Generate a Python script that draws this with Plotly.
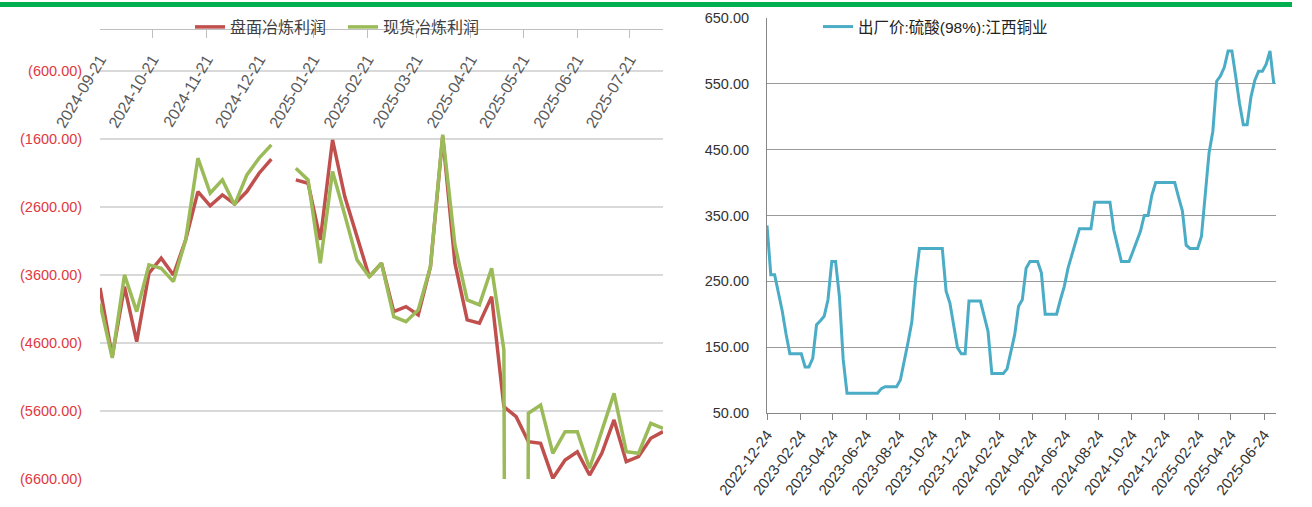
import plotly.graph_objects as go
import pandas as pd

W, H = 1312, 507

# ---------------- Left chart data (weekly) ----------------
left_start = "2024-09-21"
pan_profit = [-3791, -4800, -3772, -4581, -3575, -3354, -3600, -3085, -2375, -2585,
              -2424, -2556, -2375, -2105, -1899, None, -2203, -2252, -3085, -1615,
              -2448, -3036, -3627, -3428, -4140, -4066, -4188, -3478, -1566, -3428,
              -4262, -4311, -3919, -5537, -5684, -6052, -6076, -6590, -6321, -6199,
              -6542, -6223, -5732, -6346, -6272, -6002, -5904]
spot_profit = [-4019, -4820, -3600, -4140, -3453, -3502, -3698, -3085, -1884, -2399,
               -2203, -2571, -2130, -1884, -1688, None, -2031, -2203, -3428, -2081,
               -2718, -3379, -3627, -3428, -4213, -4287, -4115, -3478, -1540, -3159,
               -3968, -4041, -3502, -4703, -60000, -5634, -5512, -6223, -5904, -5904,
               -6443, -5880, -5341, -6199, -6223, -5781, -5855]
left_dates = pd.date_range(left_start, periods=len(pan_profit), freq="7D")
left_ytickvals = [-6600, -5600, -4600, -3600, -2600, -1600, -600]
left_yticktext = ["(6600.00)", "(5600.00)", "(4600.00)", "(3600.00)",
                  "(2600.00)", "(1600.00)", "(600.00)"]
left_names = ["盘面冶炼利润", "现货冶炼利润"]

# ---------------- Right chart data (weekly) ----------------
acid_start = "2022-12-24"
acid_price = [335, 260, 260, 235, 205, 170, 140, 140, 140, 140,
              120, 120, 133, 184, 190, 197, 222, 280, 280, 227,
              131, 80, 80, 80, 80, 80, 80, 80, 80, 80,
              87, 90, 90, 90, 90, 100, 127, 157, 188, 252,
              300, 300, 300, 300, 300, 300, 300, 235, 217, 183,
              149, 140, 140, 220, 220, 220, 220, 197, 174, 110,
              110, 110, 110, 117, 143, 169, 212, 222, 270, 280,
              280, 280, 263, 200, 200, 200, 200, 222, 242, 270,
              290, 310, 330, 330, 330, 330, 370, 370, 370, 370,
              370, 328, 304, 280, 280, 280, 295, 311, 326, 350,
              350, 381, 400, 400, 400, 400, 400, 400, 378, 357,
              305, 300, 300, 300, 318, 380, 445, 478, 554, 562,
              575, 600, 600, 561, 520, 488, 488, 530, 555, 569,
              569, 580, 600, 550]
acid_dates = pd.date_range(acid_start, periods=len(acid_price), freq="7D")
acid_name = "出厂价:硫酸(98%):江西铜业"


def fx(p):
    return p / W


def fy(p):
    return 1 - p / H


FONT = "Liberation Sans, Noto Sans CJK SC, sans-serif"

fig = go.Figure()

fig.add_trace(go.Scatter(x=left_dates, y=pan_profit, name=left_names[0], mode="lines",
                         line=dict(color="#C0504D", width=3.5), connectgaps=False,
                         xaxis="x", yaxis="y", legend="legend"))
fig.add_trace(go.Scatter(x=left_dates, y=spot_profit, name=left_names[1], mode="lines",
                         line=dict(color="#9BBB59", width=3.5), connectgaps=False,
                         xaxis="x", yaxis="y", legend="legend"))
# carrier for the label axis of the left chart
fig.add_trace(go.Scatter(x=left_dates, y=[None] * len(left_dates), mode="lines",
                         showlegend=False, hoverinfo="skip", xaxis="x3", yaxis="y"))

fig.add_trace(go.Scatter(x=acid_dates, y=acid_price, name=acid_name, mode="lines",
                         line=dict(color="#4BACC6", width=3), xaxis="x2", yaxis="y2",
                         legend="legend2"))

left_range = [left_dates[0], left_dates[-1]]

fig.update_layout(
    template="none",
    width=W, height=H,
    margin=dict(l=0, r=0, t=0, b=0, pad=0, autoexpand=False),
    paper_bgcolor="white", plot_bgcolor="white",
    font=dict(family=FONT, size=14, color="#404040"),
    xaxis=dict(domain=[fx(100), fx(663)], anchor="y", side="top", type="date",
               range=left_range, showline=True, linecolor="#BFBFBF", linewidth=1,
               ticks="inside", ticklen=8, tickcolor="#BFBFBF", dtick="M1",
               tick0=left_start, showticklabels=False, showgrid=False, zeroline=False,
               automargin=False),
    xaxis3=dict(overlaying="x", anchor="free", position=fy(46), side="bottom",
                type="date", range=left_range, dtick="M1", tick0=left_start,
                tickformat="%Y-%m-%d", tickangle=-59, showline=False, ticks="",
                showgrid=False, zeroline=False, automargin=False,
                tickfont=dict(size=16, color="#595959")),
    yaxis=dict(domain=[fy(479), fy(30)], anchor="x", range=[-6600, 0],
               tickvals=left_ytickvals, ticktext=left_yticktext,
               showgrid=True, gridcolor="#D9D9D9", gridwidth=1.5, zeroline=False,
               showline=False, ticks="outside", ticklen=14, automargin=False,
               tickcolor="rgba(0,0,0,0)", tickfont=dict(size=14.5, color="#E0393E")),
    xaxis2=dict(domain=[fx(767), fx(1276)], anchor="y2", type="date",
                range=[acid_start, "2025-07-16"], showline=True, linecolor="#868686",
                ticks="outside", ticklen=6, tickcolor="#868686", dtick="M2",
                tick0=acid_start, tickformat="%Y-%m-%d", tickangle=-53,
                showgrid=False, zeroline=False, automargin=False,
                tickfont=dict(size=15, color="#333333")),
    yaxis2=dict(domain=[fy(413), fy(18)], anchor="x2", range=[50, 650],
                tick0=50, dtick=100, tickformat=".2f", showgrid=True,
                gridcolor="#9A9A9A", gridwidth=1, zeroline=False, showline=True,
                linecolor="#868686", ticks="outside", ticklen=14, automargin=False,
                tickcolor="rgba(0,0,0,0)", tickfont=dict(size=14.5, color="#333333")),
    legend=dict(x=fx(190), y=fy(27), xanchor="left", yanchor="middle",
                orientation="h", bgcolor="rgba(0,0,0,0)",
                entrywidth=108, entrywidthmode="pixels",
                font=dict(size=16, color="#404040")),
    legend2=dict(x=fx(818), y=fy(27), xanchor="left", yanchor="middle",
                 orientation="h", bgcolor="rgba(0,0,0,0)",
                 font=dict(size=15.5, color="#222222")),
    shapes=[dict(type="rect", xref="paper", yref="paper", x0=0, x1=fx(1292),
                 y0=fy(7), y1=fy(2), fillcolor="#00B050", line=dict(width=0),
                 layer="above")],
    showlegend=True,
)

fig.write_html("out.html", config={"displayModeBar": False},
               post_script="document.body.style.margin='0';document.body.style.padding='0';")
